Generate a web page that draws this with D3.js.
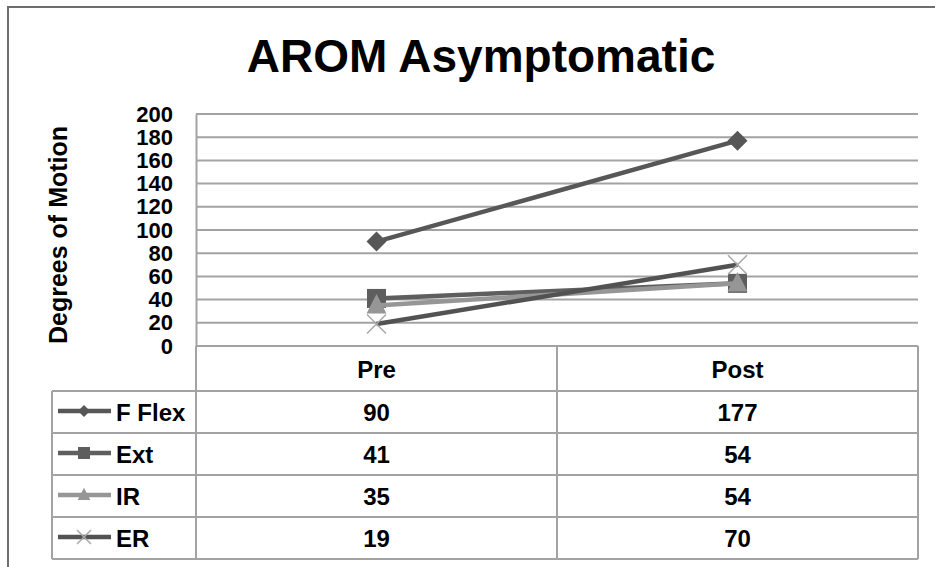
<!DOCTYPE html>
<html>
<head>
<meta charset="utf-8">
<script src="https://cdn.jsdelivr.net/npm/d3@7"></script>
<style>
  body { margin: 0; background: #fff; }
  svg { display: block; font-family: "Liberation Sans", Arial, sans-serif; font-weight: bold; }
</style>
</head>
<body>
<div id="chart"></div>
<script>
// Data
const categories = ['Pre', 'Post'];
const seriesNames = ['F Flex', 'Ext', 'IR', 'ER'];
const fFlex = [90, 177];
const ext = [41, 54];
const ir = [35, 54];
const er = [19, 70];
const yTicks = [0, 20, 40, 60, 80, 100, 120, 140, 160, 180, 200];

const seriesValues = [fFlex, ext, ir, er];
const series = seriesNames.map((name, i) => ({ name, values: seriesValues[i] }));

// Styles per series
const styles = {
  'F Flex': { line: '#575757', marker: 'diamond', fill: '#575757' },
  'Ext':    { line: '#5e5e5e', marker: 'square', fill: '#5e5e5e' },
  'IR':     { line: '#969696', marker: 'triangle', fill: '#969696' },
  'ER':     { line: '#525252', marker: 'cross', fill: '#a8a8a8' }
};

const width = 935, height = 567;
const plot = { left: 196, right: 918, top: 114, bottom: 346 };
const tableLeft = 52;
const headerH = 45;
const rowH = 42;

const svg = d3.select('#chart').append('svg')
  .attr('width', width)
  .attr('height', height);

// Outer chart border (right/bottom edge fall outside the picture)
svg.append('path')
  .attr('d', `M8,${height + 10}V7H${width + 10}`)
  .attr('fill', 'none')
  .attr('stroke', '#6e6e6e')
  .attr('stroke-width', 2);

// Title
svg.append('text')
  .attr('x', 481)
  .attr('y', 72)
  .attr('text-anchor', 'middle')
  .attr('font-size', 46)
  .text('AROM Asymptomatic');

// Scales
const x = d3.scaleBand()
  .domain(categories)
  .range([plot.left, plot.right])
  .padding(0);

const y = d3.scaleLinear()
  .domain([0, 200])
  .range([plot.bottom, plot.top]);

const cx = d => x(d) + x.bandwidth() / 2;

// Gridlines
svg.append('g')
  .selectAll('line')
  .data(yTicks)
  .join('line')
  .attr('x1', plot.left)
  .attr('x2', plot.right)
  .attr('y1', d => y(d))
  .attr('y2', d => y(d))
  .attr('stroke', '#a3a3a3')
  .attr('stroke-width', 2);

// Y axis
const yAxis = svg.append('g')
  .attr('transform', `translate(${plot.left},0)`)
  .call(d3.axisLeft(y).tickValues(yTicks).tickSize(0).tickPadding(23));
yAxis.select('.domain')
  .attr('stroke', '#a3a3a3')
  .attr('stroke-width', 2);
yAxis.selectAll('text')
  .attr('font-family', '"Liberation Sans", Arial, sans-serif')
  .attr('font-weight', 'bold')
  .attr('font-size', 22)
  .attr('fill', '#000');

// Y axis title
svg.append('text')
  .attr('transform', 'translate(67,235) rotate(-90)')
  .attr('text-anchor', 'middle')
  .attr('font-size', 25)
  .text('Degrees of Motion');

// Marker shapes
function markerPath(type, s) {
  if (type === 'diamond') return `M0,${-s}L${s},0L0,${s}L${-s},0Z`;
  if (type === 'square') return `M${-s},${-s}H${s}V${s}H${-s}Z`;
  if (type === 'triangle') return `M0,${-s * 1.2}L${s * 1.05},${s * 0.85}H${-s * 1.05}Z`;
  return `M${-s},${-s}L${s},${s}M${s},${-s}L${-s},${s}`;
}

function drawMarker(g, type, fill, s) {
  const p = g.append('path').attr('d', markerPath(type, s));
  if (type === 'cross') {
    p.attr('fill', 'none').attr('stroke', fill).attr('stroke-width', 1.5);
  } else {
    p.attr('fill', fill);
  }
}

// Lines
const line = d3.line()
  .x((d, i) => cx(categories[i]))
  .y(d => y(d));

series.forEach(s => {
  const st = styles[s.name];
  svg.append('path')
    .datum(s.values)
    .attr('fill', 'none')
    .attr('stroke', st.line)
    .attr('stroke-width', 4.5)
    .attr('d', line);
  s.values.forEach((v, i) => {
    const g = svg.append('g')
      .attr('transform', `translate(${cx(categories[i])},${y(v)})`);
    drawMarker(g, st.marker, st.fill, st.marker === 'diamond' ? 10 : 9.5);
  });
});

// Data table
const tableTop = plot.bottom;
const tableBottom = tableTop + headerH + rowH * series.length;
const tableGrid = svg.append('g')
  .attr('stroke', '#a3a3a3')
  .attr('stroke-width', 2)
  .attr('fill', 'none');

// header row: only over category columns
tableGrid.append('line')
  .attr('x1', plot.left).attr('x2', plot.right)
  .attr('y1', tableTop + headerH).attr('y2', tableTop + headerH);
// row separators and bottom
series.forEach((s, i) => {
  const yy = tableTop + headerH + rowH * (i + 1);
  tableGrid.append('line')
    .attr('x1', tableLeft).attr('x2', plot.right)
    .attr('y1', yy).attr('y2', yy);
});
tableGrid.append('line')
  .attr('x1', tableLeft).attr('x2', plot.left)
  .attr('y1', tableTop + headerH).attr('y2', tableTop + headerH);
// verticals
tableGrid.append('line')
  .attr('x1', tableLeft).attr('x2', tableLeft)
  .attr('y1', tableTop + headerH).attr('y2', tableBottom);
categories.forEach(c => {
  tableGrid.append('line')
    .attr('x1', x(c)).attr('x2', x(c))
    .attr('y1', tableTop).attr('y2', tableBottom);
});
tableGrid.append('line')
  .attr('x1', plot.right).attr('x2', plot.right)
  .attr('y1', tableTop).attr('y2', tableBottom);

// header labels
svg.append('g')
  .selectAll('text')
  .data(categories)
  .join('text')
  .attr('x', d => cx(d))
  .attr('y', tableTop + headerH / 2 + 9)
  .attr('text-anchor', 'middle')
  .attr('font-size', 24)
  .text(d => d);

// rows
series.forEach((s, i) => {
  const rowMid = tableTop + headerH + rowH * i + rowH / 2;
  const st = styles[s.name];
  // legend key
  svg.append('line')
    .attr('x1', 58).attr('x2', 111)
    .attr('y1', rowMid - 1).attr('y2', rowMid - 1)
    .attr('stroke', st.line)
    .attr('stroke-width', 4.5);
  const g = svg.append('g').attr('transform', `translate(84,${rowMid - 1})`);
  drawMarker(g, st.marker, st.fill, st.marker === 'cross' ? 7 : 6);

  svg.append('text')
    .attr('x', 116)
    .attr('y', rowMid + 9)
    .attr('font-size', 24)
    .text(s.name);

  s.values.forEach((v, j) => {
    svg.append('text')
      .attr('x', cx(categories[j]))
      .attr('y', rowMid + 9)
      .attr('text-anchor', 'middle')
      .attr('font-size', 24)
      .text(v);
  });
});
</script>
</body>
</html>
